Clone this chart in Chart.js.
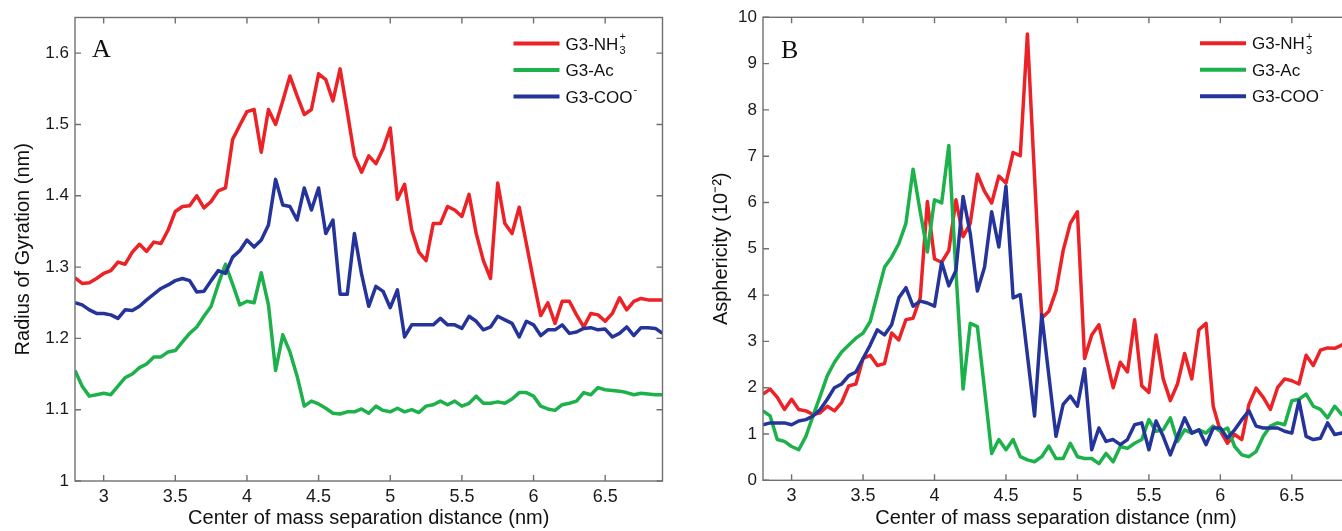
<!DOCTYPE html>
<html><head><meta charset="utf-8">
<script src="https://cdn.jsdelivr.net/npm/chart.js@4.4.1/dist/chart.umd.min.js"></script>
<style>
html,body{margin:0;padding:0;background:#fff;overflow:hidden;width:1342px;height:531px;position:relative;}
#wrapA{position:absolute;left:0;top:0;width:680px;height:531px;}
#wrapB{position:absolute;left:680px;top:0;width:690px;height:531px;}
canvas{display:block;}
</style></head><body>
<div id="wrapA"><canvas id="cA" width="680" height="531"></canvas></div>
<div id="wrapB"><canvas id="cB" width="690" height="531"></canvas></div>
<script>
// ---- data ----
const distance = [2.8,2.85,2.9,2.95,3.0,3.05,3.1,3.15,3.2,3.25,3.3,3.35,3.4,3.45,3.5,3.55,3.6,3.65,3.7,3.75,3.8,3.85,3.9,3.95,4.0,4.05,4.1,4.15,4.2,4.25,4.3,4.35,4.4,4.45,4.5,4.55,4.6,4.65,4.7,4.75,4.8,4.85,4.9,4.95,5.0,5.05,5.1,5.15,5.2,5.25,5.3,5.35,5.4,5.45,5.5,5.55,5.6,5.65,5.7,5.75,5.8,5.85,5.9,5.95,6.0,6.05,6.1,6.15,6.2,6.25,6.3,6.35,6.4,6.45,6.5,6.55,6.6,6.65,6.7,6.75,6.8,6.85,6.9];

const seriesNames = ['G3-NH_3^+', 'G3-Ac', 'G3-COO^-'];
const seriesColors = ['#ec2227', '#1db14b', '#25349a'];

// Panel A: radius of gyration (nm)
const rgNH3 = [1.285,1.277,1.278,1.284,1.291,1.295,1.307,1.304,1.321,1.332,1.322,1.335,1.333,1.352,1.378,1.385,1.386,1.400,1.383,1.392,1.407,1.411,1.479,1.499,1.518,1.521,1.461,1.521,1.500,1.533,1.568,1.540,1.514,1.521,1.571,1.563,1.533,1.578,1.518,1.456,1.433,1.456,1.445,1.466,1.495,1.395,1.416,1.352,1.321,1.309,1.361,1.361,1.385,1.380,1.371,1.402,1.347,1.309,1.284,1.418,1.361,1.347,1.384,1.333,1.281,1.232,1.250,1.221,1.252,1.252,1.233,1.216,1.235,1.233,1.224,1.235,1.257,1.240,1.252,1.256,1.254,1.254,1.254];
const rgAc  = [1.155,1.133,1.119,1.121,1.123,1.121,1.133,1.145,1.150,1.159,1.164,1.174,1.174,1.181,1.183,1.195,1.207,1.216,1.231,1.245,1.276,1.304,1.276,1.247,1.252,1.250,1.292,1.247,1.155,1.205,1.181,1.147,1.105,1.112,1.108,1.102,1.095,1.094,1.097,1.097,1.101,1.095,1.105,1.099,1.097,1.102,1.097,1.100,1.096,1.105,1.107,1.112,1.107,1.112,1.105,1.109,1.119,1.109,1.109,1.111,1.109,1.115,1.124,1.124,1.119,1.105,1.101,1.099,1.107,1.109,1.112,1.124,1.121,1.131,1.128,1.127,1.126,1.124,1.121,1.123,1.122,1.121,1.121];
const rgCOO = [1.250,1.247,1.240,1.235,1.235,1.233,1.228,1.240,1.239,1.245,1.254,1.262,1.270,1.275,1.281,1.284,1.281,1.265,1.266,1.281,1.295,1.291,1.314,1.323,1.338,1.328,1.338,1.359,1.423,1.387,1.385,1.366,1.411,1.380,1.411,1.347,1.366,1.262,1.262,1.347,1.290,1.245,1.273,1.266,1.243,1.268,1.202,1.219,1.219,1.219,1.219,1.228,1.219,1.219,1.214,1.231,1.224,1.212,1.216,1.231,1.226,1.221,1.202,1.224,1.219,1.204,1.212,1.212,1.219,1.207,1.209,1.214,1.215,1.212,1.213,1.202,1.207,1.216,1.204,1.215,1.215,1.214,1.207];

// Panel B: asphericity (10^-2)
const asNH3 = [1.86,1.97,1.79,1.53,1.75,1.53,1.50,1.42,1.46,1.60,1.50,1.68,2.04,2.08,2.63,2.70,2.48,2.52,3.18,3.03,3.47,3.50,3.94,6.02,4.78,4.71,4.96,6.06,5.26,5.55,6.61,6.24,5.99,6.57,6.42,7.08,7.01,9.64,6.55,3.50,3.65,4.09,4.96,5.55,5.80,2.63,3.14,3.36,2.66,2.00,2.55,2.34,3.47,2.04,1.90,3.14,2.19,1.72,2.08,2.74,2.19,3.25,3.39,1.60,1.06,0.80,0.99,0.88,1.64,1.99,1.79,1.53,2.00,2.19,2.15,2.08,2.70,2.48,2.81,2.86,2.85,2.92,3.06];
const asAc  = [1.50,1.39,0.88,0.84,0.73,0.66,0.95,1.39,1.82,2.26,2.55,2.77,2.92,3.07,3.18,3.43,4.01,4.60,4.82,5.11,5.55,6.72,5.80,4.93,6.06,5.99,7.23,4.50,1.97,3.39,3.32,1.97,0.58,0.88,0.66,0.88,0.51,0.44,0.40,0.51,0.74,0.47,0.47,0.80,0.51,0.47,0.47,0.36,0.58,0.40,0.73,0.69,0.80,0.88,1.31,1.06,1.09,1.35,0.84,1.09,1.02,1.09,1.02,1.17,1.06,1.13,0.73,0.55,0.51,0.62,0.95,1.17,1.24,1.20,1.72,1.75,1.86,1.60,1.53,1.35,1.60,1.42,1.46];
const asCOO = [1.20,1.24,1.24,1.24,1.20,1.28,1.31,1.39,1.53,1.75,2.00,2.08,2.26,2.34,2.63,2.92,3.25,3.14,3.36,3.94,4.16,3.76,3.87,3.83,3.76,4.71,4.20,4.53,6.13,5.33,4.09,4.60,5.80,5.04,6.35,3.94,4.01,2.70,1.39,3.58,2.26,0.95,1.64,1.82,1.60,2.41,0.66,1.13,0.84,0.88,0.77,0.88,1.20,1.24,0.66,1.28,0.95,0.55,0.95,1.35,1.02,1.09,0.77,1.13,1.13,0.91,1.09,1.31,1.50,1.17,1.13,1.13,1.13,1.06,1.02,1.72,0.95,0.88,0.91,1.24,0.99,1.02,1.02];

const xTicks  = [3, 3.5, 4, 4.5, 5, 5.5, 6, 6.5];
const rgTicks = [1, 1.1, 1.2, 1.3, 1.4, 1.5, 1.6];
const asTicks = [0, 1, 2, 3, 4, 5, 6, 7, 8, 9, 10];

// ---- drawing helpers ----
const SANS = '"Liberation Sans", Arial, Helvetica, sans-serif';

function drawRich(ctx, label, x, yMid, size) {
  // supports "_c" subscript and "^c" superscript (stacked when adjacent)
  const big = size + 'px ' + SANS;
  const small = Math.round(size * 0.62) + 'px ' + SANS;
  const base = yMid + size * 0.36;
  let i = 0, cx = x, plain = '';
  const flush = () => { if (plain) { ctx.font = big; ctx.fillText(plain, cx, base); cx += ctx.measureText(plain).width; plain = ''; } };
  while (i < label.length) {
    const c = label[i];
    if (c === '_' || c === '^') {
      flush();
      let sub = null, sup = null;
      while (i < label.length && (label[i] === '_' || label[i] === '^')) {
        if (label[i] === '_') sub = label[i + 1]; else sup = label[i + 1];
        i += 2;
      }
      ctx.font = small;
      let w = 0;
      if (sub) { ctx.fillText(sub, cx + 1, base + size * 0.28); w = Math.max(w, ctx.measureText(sub).width); }
      if (sup) { ctx.fillText(sup, cx + 1, base - size * 0.55); w = Math.max(w, ctx.measureText(sup).width); }
      cx += w + 1;
    } else { plain += c; i++; }
  }
  flush();
}

const decorPlugin = {
  id: 'decor',
  afterDatasetsDraw(chart, args, opts) {
    const { ctx, chartArea: a } = chart;
    const xs = chart.scales.x, ys = chart.scales.y;
    ctx.save();
    // box
    ctx.strokeStyle = '#707070';
    ctx.lineWidth = 1.4;
    ctx.strokeRect(a.left, a.top, a.right - a.left, a.bottom - a.top);
    // inward ticks on all four sides
    const L = 6;
    ctx.beginPath();
    xs.ticks.forEach(t => {
      const p = xs.getPixelForValue(t.value);
      ctx.moveTo(p, a.bottom); ctx.lineTo(p, a.bottom - L);
      ctx.moveTo(p, a.top); ctx.lineTo(p, a.top + L);
    });
    ys.ticks.forEach(t => {
      const p = ys.getPixelForValue(t.value);
      ctx.moveTo(a.left, p); ctx.lineTo(a.left + L, p);
      ctx.moveTo(a.right, p); ctx.lineTo(a.right - L, p);
    });
    ctx.stroke();
    // panel letter
    ctx.fillStyle = '#111';
    ctx.font = '26px "Liberation Serif", "Times New Roman", serif';
    ctx.textBaseline = 'alphabetic';
    ctx.textAlign = 'left';
    ctx.fillText(opts.letter, a.left + opts.letterDx, a.top + opts.letterDy);
    // legend
    chart.data.datasets.forEach((ds, k) => {
      const y = a.top + 26 + k * 26.5;
      ctx.strokeStyle = ds.borderColor;
      ctx.lineWidth = 4;
      ctx.beginPath();
      ctx.moveTo(a.right - 149, y); ctx.lineTo(a.right - 103, y);
      ctx.stroke();
      ctx.fillStyle = '#111';
      drawRich(ctx, ds.label, a.right - 97, y, 17);
    });
    ctx.restore();
  }
};

function makeDatasets(series) {
  return series.map((vals, k) => ({
    label: seriesNames[k],
    data: distance.map((d, i) => ({ x: d, y: vals[i] })),
    borderColor: seriesColors[k],
    backgroundColor: seriesColors[k],
    borderWidth: 3.5,
    pointRadius: 0,
    tension: 0,
    fill: false,
    borderJoinStyle: 'round',
    order: 3 - k
  }));
}

function makeChart(id, series, cfg) {
  return new Chart(document.getElementById(id), {
    type: 'line',
    data: { datasets: makeDatasets(series) },
    plugins: [decorPlugin],
    options: {
      responsive: false,
      animation: false,
      events: [],
      layout: { padding: { top: cfg.padTop, right: cfg.padRight, left: 0, bottom: 0 } },
      plugins: {
        legend: { display: false },
        tooltip: { enabled: false },
        decor: { letter: cfg.letter, letterDx: cfg.letterDx, letterDy: cfg.letterDy }
      },
      scales: {
        x: {
          type: 'linear', min: 2.8, max: 6.9,
          afterBuildTicks: s => { s.ticks = xTicks.map(v => ({ value: v })); },
          afterFit: s => { s.height = cfg.xHeight; },
          grid: { display: false, drawTicks: false },
          border: { display: false },
          ticks: { color: '#1a1a1a', font: { family: SANS, size: 18 }, padding: 5, autoSkip: false, maxRotation: 0, callback: v => String(v) },
          title: { display: true, text: 'Center of mass separation distance (nm)', color: '#111', font: { family: SANS, size: 20 }, padding: { top: 0, bottom: 1 } }
        },
        y: {
          type: 'linear', min: cfg.yMin, max: cfg.yMax,
          afterBuildTicks: s => { s.ticks = cfg.yTicks.map(v => ({ value: v })); },
          afterFit: s => { s.width = cfg.yWidth; },
          grid: { display: false, drawTicks: false },
          border: { display: false },
          ticks: { color: '#1a1a1a', font: { family: SANS, size: 17 }, padding: cfg.yPad, autoSkip: false, callback: v => String(v) },
          title: { display: true, text: cfg.yTitle, color: '#111', font: { family: SANS, size: 20 }, padding: { top: cfg.yTitlePad, bottom: 0 } }
        }
      }
    }
  });
}

makeChart('cA', [rgNH3, rgAc, rgCOO], {
  padTop: 17.5, padRight: 17.5, xHeight: 50, yWidth: 75, yPad: 6,
  yMin: 1, yMax: 1.65, yTicks: rgTicks, yTitle: 'Radius of Gyration (nm)', yTitlePad: 11,
  letter: 'A', letterDx: 17, letterDy: 39.5
});
makeChart('cB', [asNH3, asAc, asCOO], {
  padTop: 17.3, padRight: 21, xHeight: 50.7, yWidth: 83, yPad: 6,
  yMin: 0, yMax: 10, yTicks: asTicks, yTitle: 'Asphericity (10⁻²)', yTitlePad: 29,
  letter: 'B', letterDx: 18, letterDy: 40.5
});
</script>
</body></html>
